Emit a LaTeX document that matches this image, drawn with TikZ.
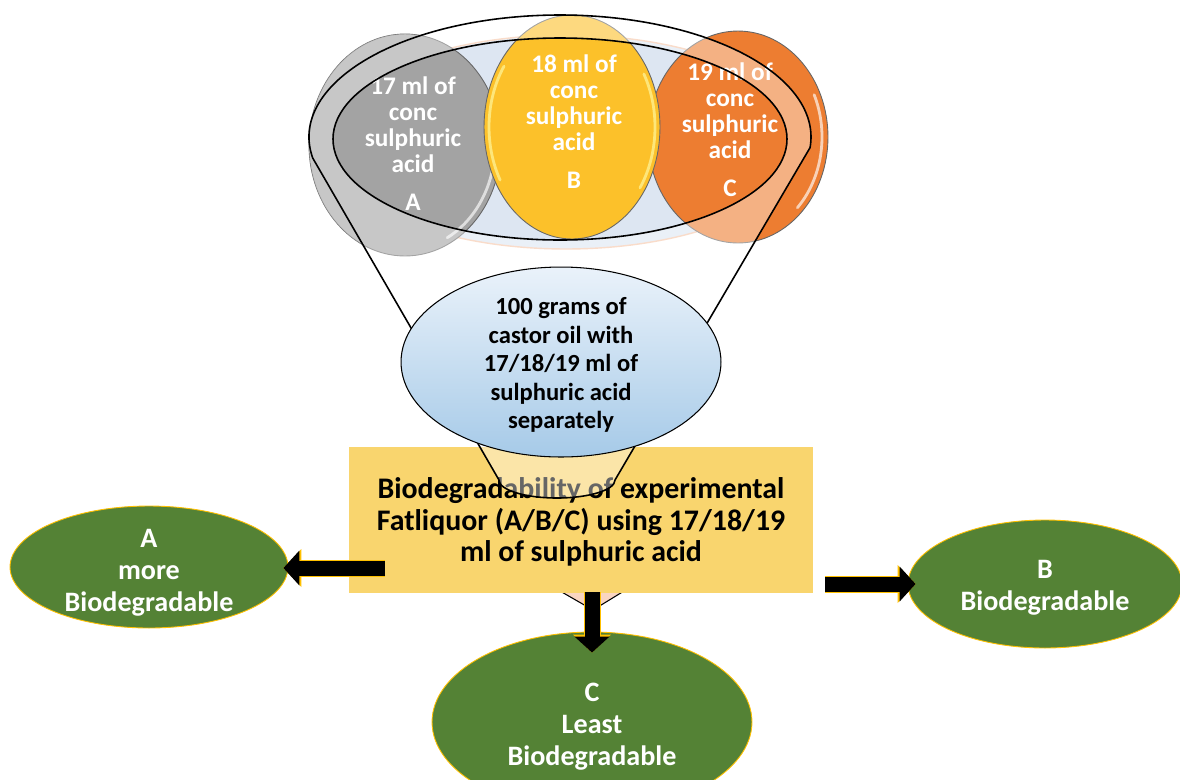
\documentclass[tikz,border=0pt]{standalone}
\usepackage{fontspec}
\setmainfont{Carlito}
\usetikzlibrary{arrows.meta,shapes.geometric,calc}

\definecolor{acidgray}{HTML}{A3A3A3}
\definecolor{acidyellow}{HTML}{FCC12A}
\definecolor{acidorange}{HTML}{ED7D31}
\definecolor{trayblue}{HTML}{DDE6F2}
\definecolor{traypink}{HTML}{F6C5A8}
\definecolor{oiltop}{HTML}{EAF2FA}
\definecolor{oilbottom}{HTML}{A6CAE8}
\definecolor{boxyellow}{HTML}{F9D56E}
\definecolor{spoutpink}{HTML}{F9D5C2}
\definecolor{leafgreen}{HTML}{548235}
\definecolor{rimgold}{HTML}{FFC000}

\tikzset{
  acid/.style={ellipse, draw=black!60, line width=0.5pt, inner sep=0pt},
  acidtext/.style={text=white, font=\fontsize{14.4}{14.8}\selectfont\bfseries, align=center, inner sep=0pt},
  result/.style={ellipse, fill=leafgreen, draw=rimgold, line width=0.5pt, inner sep=0pt},
  resulttext/.style={text=white, font=\fontsize{16}{18.2}\selectfont\bfseries, align=center, inner sep=0pt},
  funnel/.style={line width=0.9pt},
  gloss/.style={white, opacity=0.65, line width=1.6pt, line cap=round},
}

\begin{document}
\begin{tikzpicture}[x=0.02cm, y=-0.02cm]
\useasboundingbox (0,0) rectangle (1180,779);

% tray behind the acids
\node[ellipse, fill=trayblue, draw=traypink, line width=0.8pt, inner sep=0pt,
      minimum width=9.6cm, minimum height=4.28cm] (tray) at (566,142) {};

% the three acids
\node[acid, fill=acidgray, minimum width=3.84cm, minimum height=4.44cm] (acidA) at (405,145) {};
\draw[gloss] (acidA.center) ++(8:90 and 105) arc[start angle=8, end angle=62, x radius=90, y radius=105];
\node[acid, fill=acidorange, minimum width=3.6cm, minimum height=4.24cm] (acidC) at (738,137) {};
\draw[gloss] (acidC.center) ++(-25:84 and 100) arc[start angle=-25, end angle=45, x radius=84, y radius=100];
\node[acid, fill=acidyellow, minimum width=3.52cm, minimum height=4.48cm] (acidB) at (572,127) {};
\draw[gloss, yellow!35] (acidB.center) ++(150:83 and 106) arc[start angle=150, end angle=215, x radius=83, y radius=106];
\draw[gloss, yellow!35] (acidB.center) ++(-30:83 and 106) arc[start angle=-30, end angle=35, x radius=83, y radius=106];

\node[acidtext] (textA) at (413,144) {17 ml of\\conc\\sulphuric\\acid\\[0.24cm]A};
\node[acidtext] (textB) at (574,122) {18 ml of\\conc\\sulphuric\\acid\\[0.24cm]B};
\node[acidtext] (textC) at (730,130) {19 ml of\\conc\\sulphuric\\acid\\[0.24cm]C};

% funnel body and rim
\coordinate (rim) at (560,137);
\coordinate (inner) at (560,139);
\coordinate (neckL) at (499,480);
\coordinate (neckR) at (615,480);
\fill[white, opacity=0.4, even odd rule]
  (neckL) -- ([shift={(170:251 and 122)}]rim) arc[start angle=170, end angle=365, x radius=251, y radius=122]
  -- (neckR) arc[start angle=0, end angle=180, x radius=58, y radius=18] -- cycle
  (inner) ellipse[x radius=227, y radius=101];
\begin{scope}
  \clip (acidA.center) ellipse[x radius=96, y radius=111];
  \fill[white, opacity=0.4, even odd rule] (280,0) rectangle (520,280)
    (neckL) -- ([shift={(170:251 and 122)}]rim) arc[start angle=170, end angle=365, x radius=251, y radius=122]
    -- (neckR) arc[start angle=0, end angle=180, x radius=58, y radius=18] -- cycle;
\end{scope}
\draw[funnel] (inner) ellipse[x radius=227, y radius=101];

% spout under the box
\draw[fill=spoutpink, line width=0.6pt] (560,591) -- (593,610) -- (624,591);

% test box
\node[rectangle, fill=boxyellow, minimum width=9.28cm, minimum height=2.92cm, inner sep=0pt,
      font=\fontsize{17}{17.8}\selectfont\bfseries, align=center] (test) at (581,520) {};
\node[font=\fontsize{17}{17.8}\selectfont\bfseries, align=center, inner sep=0pt] (testtext) at ($(test)+(0,2)$)
  {Biodegradability of experimental\\Fatliquor (A/B/C) using 17/18/19\\ml of sulphuric acid};

% neck over the box
\fill[white, opacity=0.4] (480,447) -- (neckL) arc[start angle=180, end angle=0, x radius=58, y radius=18]
  -- (neckR) -- (635,447) -- cycle;
\draw[funnel] (neckL) -- ([shift={(170:251 and 122)}]rim) arc[start angle=170, end angle=365, x radius=251, y radius=122]
  -- (neckR) arc[start angle=0, end angle=180, x radius=58, y radius=18];

% oil and acid mixture
\node[ellipse, top color=oiltop, bottom color=oilbottom, draw=black, line width=0.6pt, inner sep=0pt,
      minimum width=6.4cm, minimum height=3.8cm] (oil) at (561,362) {};
\node[font=\fontsize{14}{16.2}\selectfont\bfseries, align=center, inner sep=0pt] (oiltext) at ($(oil)+(0,3)$)
  {100 grams of\\castor oil with\\17/18/19 ml of\\sulphuric acid\\separately};

% results
\node[result, minimum width=5.56cm, minimum height=2.44cm] (resA) at (149,567) {};
\node[result, minimum width=5.48cm, minimum height=2.56cm] (resB) at (1045,584) {};
\node[result, minimum width=6.4cm, minimum height=3.6cm] (resC) at (592,722) {};
\node[resulttext] (labA) at ($(resA)+(0,6)$) {A\\more\\Biodegradable};
\node[resulttext] (labB) at ($(resB)+(0,4)$) {B\\Biodegradable};
\node[resulttext] (labC) at ($(resC)+(0,5)$) {C\\Least\\Biodegradable};

% arrows
\coordinate (la) at (385,568);
\coordinate (rb) at (825,584);
\coordinate (cb) at (592,592);
\coordinate (ca) at ($(resC.north)+(0,21)$);
\coordinate (ra) at ($(resB.west)+(8,0)$);
\coordinate (aa) at ($(resA.east)+(-5,1)$);
\foreach \from/\to in {la/aa, rb/ra, cb/ca} {
  \draw[rimgold, line width=0.34cm, -{Triangle[length=0.36cm, width=0.76cm, line width=0pt]}] (\from) -- (\to);
  \draw[black, line width=0.3cm, -{Triangle[length=0.32cm, width=0.7cm, line width=0pt]}] (\from) -- (\to);
}

\end{tikzpicture}
\end{document}
